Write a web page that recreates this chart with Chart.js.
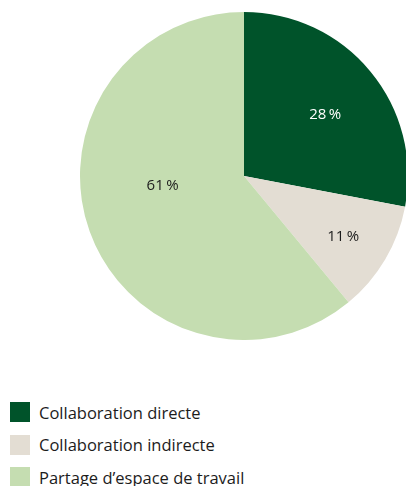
<!DOCTYPE html>
<html lang="fr">
<head>
<meta charset="UTF-8">
<title>Collaboration</title>
<script src="https://cdn.jsdelivr.net/npm/chart.js"></script>
<style>
    html, body { margin: 0; padding: 0; background: #ffffff; overflow: hidden; width: 406px; height: 486px; }
    #pieWrap { position: absolute; left: 80px; top: 12px; width: 328px; height: 328px; }
    #legend { position: absolute; left: 10px; top: 402px; font-family: "Open Sans", "Noto Sans", sans-serif; font-size: 16.5px; color: #1c1c1c; }
    .item { height: 20px; margin-bottom: 12.5px; display: flex; align-items: center; white-space: nowrap; }
    .box { width: 20px; height: 20px; margin-right: 9px; flex: none; }
</style>
</head>
<body>
<div id="pieWrap"><canvas id="pie"></canvas></div>
<div id="legend"></div>
<script>
    // data
    const categories = ['Collaboration directe', 'Collaboration indirecte', 'Partage d\u2019espace de travail'];
    const shares = [28, 11, 61];
    const colors = ['#00532a', '#e3ddd3', '#c5ddb1'];
    const labelColors = ['#ffffff', '#1c1c1c', '#1c1c1c'];

    // html legend
    const legend = document.getElementById('legend');
    categories.forEach((c, i) => {
        const row = document.createElement('div');
        row.className = 'item';
        row.innerHTML = '<span class="box" style="background:' + colors[i] + '"></span><span>' + c + '</span>';
        legend.appendChild(row);
    });

    // percent labels inside slices (angle tweak in degrees, radius fraction)
    const sliceLabels = {
        id: 'sliceLabels',
        afterDatasetsDraw(chart, args, opts) {
            const ctx = chart.ctx;
            const meta = chart.getDatasetMeta(0);
            ctx.save();
            ctx.font = '15px "Open Sans", "Noto Sans", sans-serif';
            ctx.textAlign = 'center';
            ctx.textBaseline = 'middle';
            meta.data.forEach((arc, i) => {
                const p = arc.getProps(['x', 'y', 'startAngle', 'endAngle', 'outerRadius'], true);
                const a = (p.startAngle + p.endAngle) / 2 + opts.tweak[i][0] * Math.PI / 180;
                const r = p.outerRadius * opts.tweak[i][1];
                ctx.fillStyle = labelColors[i];
                ctx.fillText(shares[i] + '\u2009%', p.x + Math.cos(a) * r, p.y + Math.sin(a) * r);
            });
            ctx.restore();
        }
    };

    new Chart(document.getElementById('pie'), {
        type: 'pie',
        data: {
            labels: categories,
            datasets: [{
                data: shares,
                backgroundColor: colors,
                borderWidth: 0
            }]
        },
        options: {
            responsive: true,
            maintainAspectRatio: false,
            animation: false,
            layout: { padding: 0 },
            plugins: {
                legend: { display: false },
                tooltip: { enabled: false },
                sliceLabels: { tweak: [[2.6, 0.62], [1, 0.71], [12.8, 0.5]] }
            }
        },
        plugins: [sliceLabels]
    });
</script>
</body>
</html>
